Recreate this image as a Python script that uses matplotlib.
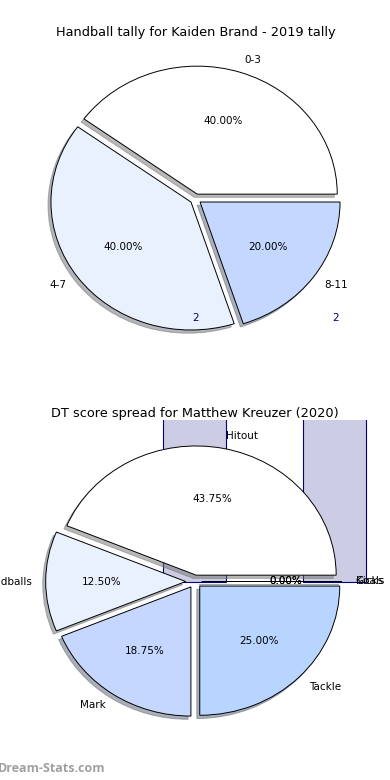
import numpy as np
import matplotlib
matplotlib.use('Agg')
import matplotlib.pyplot as plt

# top chart data
top_title = 'Handball tally for Kaiden Brand - 2019 tally'
top_labels = ['0-3', '4-7', '8-11']
top_values = [2, 2, 1]
top_colors = ['#FFFFFF', '#EAF1FE', '#C4D8FF']
top_notes = ['2', '2']

# bottom chart data
bot_title = 'DT score spread for Matthew Kreuzer (2020)'
bot_labels = ['Hitout', 'Handballs', 'Mark', 'Tackle', 'Kicks', 'Goals']
bot_values = [7, 2, 3, 4, 0, 0]
bot_colors = ['#FFFFFF', '#EAF1FE', '#C6D7FF', '#B7D5FF', '#FFFFFF', '#FFFFFF']
bar_heights = [3, 3]

FS = 7.5
TITLE_FS = 9.3
SHADOW = {'ox': -0.015, 'oy': -0.018, 'shade': 0.55}
fig = plt.figure(figsize=(3.9, 7.8), dpi=100)

####################### top pie ######################
ax1 = fig.add_axes([20.5/390, 1-359/780, 350/390, 320/780])
ax1.pie(top_values, labels=top_labels, colors=top_colors, autopct='%.2f%%',
        explode=[0.04]*len(top_values), shadow=SHADOW, startangle=0,
        wedgeprops={'edgecolor': 'black', 'linewidth': 0.7},
        textprops={'fontsize': FS})
for i, t in enumerate(top_notes):
    ax1.text(i, -0.93, t, color='navy', fontsize=FS, ha='center', va='center')
ax1.set_aspect('auto')
ax1.set_xlim(-1.25, 1.25)
ax1.set_ylim(-1.25, 1.25)
ax1.set_title(top_title, fontsize=TITLE_FS, pad=2.5)

####################### bottom pie ######################
ax2 = fig.add_axes([19.8/390, 1-743/780, 350/390, 323/780])
ax2.bar(range(len(bar_heights)), bar_heights, width=0.45, color='#CCCCE4',
        edgecolor='navy', linewidth=0.8, zorder=0)
ax2.pie(bot_values, labels=bot_labels, colors=bot_colors, autopct='%.2f%%',
        explode=[0.05, 0.065, 0.05, 0.05, 0.05, 0.05], shadow=SHADOW, startangle=0,
        wedgeprops={'edgecolor': 'black', 'linewidth': 0.7},
        textprops={'fontsize': FS})
ax2.set_aspect('auto')
ax2.set_xlim(-1.25, 1.25)
ax2.set_ylim(-1.25, 1.25)
ax2.set_axis_off()
ax2.set_title(bot_title, fontsize=TITLE_FS, pad=2.5)

fig.text(-0.005, 0.01, 'Dream-Stats.com', fontsize=9, color='#a0a0a0',
         family='Open Sans', fontweight='bold')

fig.savefig('out.png', dpi=100)
